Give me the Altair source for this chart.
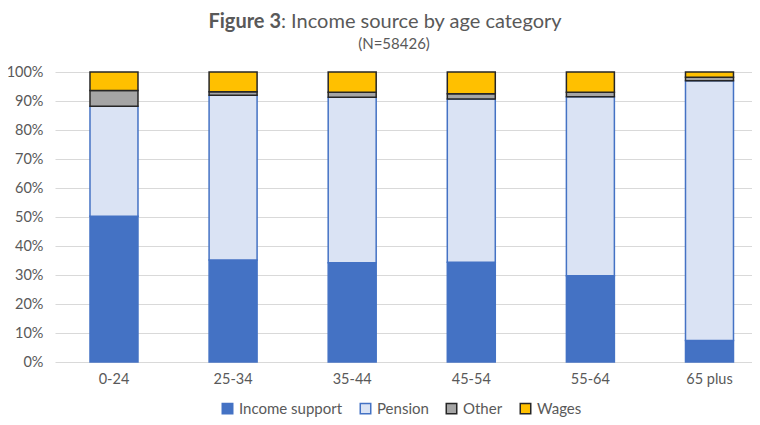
import altair as alt
import pandas as pd

categories = ["0-24", "25-34", "35-44", "45-54", "55-64", "65 plus"]
series = ["Income support", "Pension", "Other", "Wages"]
income_support = [50.3, 35.2, 34.2, 34.4, 29.7, 7.4]
pension = [37.9, 56.8, 57.1, 56.3, 61.8, 89.6]
other = [5.4, 1.2, 1.7, 1.8, 1.5, 1.2]
wages = [6.4, 6.8, 7.0, 7.5, 7.0, 1.8]
fills = ["#4472C4", "#DAE3F4", "#A5A5A5", "#FFC000"]
strokes = ["#4472C4", "#4472C4", "#262626", "#262626"]

rows = []
for s_i, (name, vals) in enumerate(zip(series, [income_support, pension, other, wages])):
    for c, v in zip(categories, vals):
        rows.append({"age": c, "source": name, "share": v / 100.0, "idx": s_i})
df = pd.DataFrame(rows)

FONT = "Lato"
GRAY = "#595959"

bars = alt.Chart(df).mark_bar(strokeWidth=1.5).encode(
    x=alt.X("age:N", sort=categories, title=None,
            scale=alt.Scale(paddingInner=0.597, paddingOuter=0.2246, align=0.654),
            axis=alt.Axis(labelAngle=0, ticks=False, domain=False, labelPadding=10,
                          labelFontSize=14.5, labelColor=GRAY, labelFont=FONT)),
    y=alt.Y("share:Q", stack="zero", title=None,
            scale=alt.Scale(domain=[0, 1], nice=False),
            axis=alt.Axis(format=".0%", values=[i / 10 for i in range(11)], ticks=False,
                          domain=False, labelPadding=12, labelFontSize=14.5,
                          labelColor=GRAY, labelFont=FONT, gridColor="#D9D9D9")),
    color=alt.Color("source:N", sort=series, title=None,
                    scale=alt.Scale(domain=series, range=fills),
                    legend=alt.Legend(orient="none", legendX=165, legendY=329,
                                      direction="horizontal", symbolType="square",
                                      symbolSize=110, symbolStrokeWidth=1.5,
                                      labelFontSize=15, labelColor=GRAY, labelFont=FONT,
                                      columnPadding=14, labelOffset=4)),
    stroke=alt.Stroke("source:N", sort=series, title=None,
                      scale=alt.Scale(domain=series, range=strokes)),
    order=alt.Order("idx:Q", sort="ascending"),
)

title_df = pd.DataFrame([{"a": 1}])
t1 = alt.Chart(title_df).mark_text(align="right", baseline="middle", font=FONT,
                                   fontSize=20, fontWeight="bold", color=GRAY).encode(
    x=alt.value(226), y=alt.value(-50), text=alt.value("Figure 3"))
t2 = alt.Chart(title_df).mark_text(align="left", baseline="middle", font=FONT,
                                   fontSize=20, color=GRAY).encode(
    x=alt.value(226), y=alt.value(-50), text=alt.value(": Income source by age category"))
t3 = alt.Chart(title_df).mark_text(align="center", baseline="middle", font=FONT,
                                   fontSize=15, color=GRAY).encode(
    x=alt.value(339), y=alt.value(-28), text=alt.value("(N=58426)"))

chart = alt.layer(bars, t1, t2, t3).properties(
    width=697, height=290,
    autosize=alt.AutoSizeParams(type="none"),
    padding={"left": 47, "top": 64, "right": 0, "bottom": 55},
).configure_view(stroke=None).configure_legend(labelLimit=300)

chart.save("out.html", embed_options={"renderer": "svg", "actions": False})
